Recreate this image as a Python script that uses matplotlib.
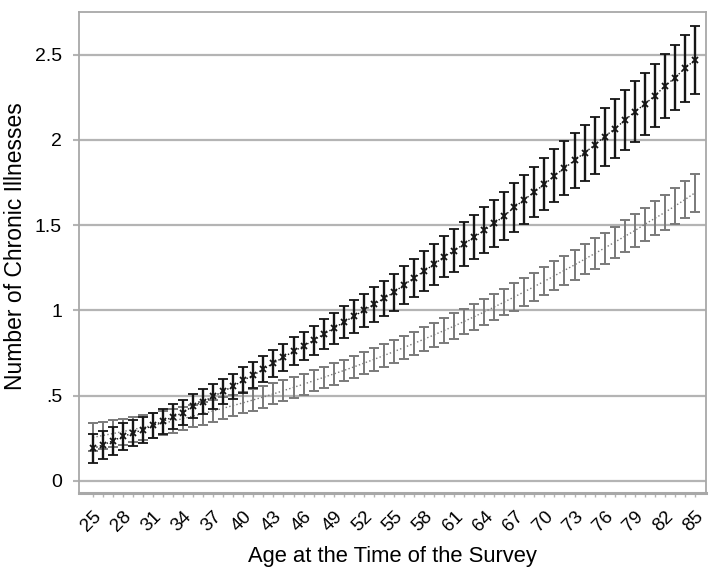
import matplotlib
matplotlib.use("Agg")
import matplotlib.pyplot as plt
import numpy as np

plt.rcParams['font.family'] = ['Liberation Sans', 'DejaVu Sans']

ages = list(range(25, 86))

# darker series (x markers)
dark_mean = [0.19, 0.21, 0.235, 0.26, 0.28, 0.30, 0.325, 0.35, 0.375, 0.40,
             0.44, 0.465, 0.495, 0.525, 0.555, 0.59, 0.62, 0.655, 0.69, 0.725,
             0.76, 0.79, 0.825, 0.86, 0.895, 0.93, 0.965, 1.0, 1.035, 1.07,
             1.105, 1.15, 1.19, 1.23, 1.27, 1.315, 1.35, 1.39, 1.43, 1.47,
             1.51, 1.555, 1.605, 1.65, 1.695, 1.74, 1.79, 1.835, 1.88, 1.925,
             1.97, 2.02, 2.065, 2.115, 2.165, 2.21, 2.26, 2.315, 2.365, 2.42,
             2.47]
dark_err = [0.085, 0.083, 0.081, 0.079, 0.077, 0.076, 0.075, 0.074, 0.073, 0.072,
            0.072, 0.072, 0.072, 0.073, 0.074, 0.075, 0.076, 0.077, 0.078, 0.08,
            0.082, 0.084, 0.086, 0.088, 0.09, 0.093, 0.096, 0.098, 0.101, 0.104,
            0.107, 0.11, 0.113, 0.116, 0.119, 0.122, 0.125, 0.128, 0.131, 0.134,
            0.137, 0.14, 0.143, 0.146, 0.149, 0.152, 0.155, 0.158, 0.161, 0.164,
            0.167, 0.17, 0.173, 0.176, 0.179, 0.182, 0.185, 0.189, 0.192, 0.196,
            0.2]

# lighter series
gray_mean = [0.255, 0.266, 0.277, 0.289, 0.301, 0.313, 0.325, 0.338, 0.351, 0.365,
             0.38, 0.395, 0.41, 0.426, 0.442, 0.458, 0.475, 0.492, 0.51, 0.529,
             0.548, 0.567, 0.587, 0.607, 0.627, 0.647, 0.668, 0.69, 0.712, 0.735,
             0.758, 0.782, 0.806, 0.831, 0.856, 0.882, 0.908, 0.935, 0.963, 0.991,
             1.02, 1.049, 1.079, 1.109, 1.14, 1.171, 1.203, 1.235, 1.267, 1.3,
             1.333, 1.366, 1.4, 1.434, 1.468, 1.505, 1.54, 1.575, 1.612, 1.65,
             1.69]
gray_err = [0.082, 0.08, 0.078, 0.076, 0.074, 0.073, 0.071, 0.07, 0.069, 0.068,
            0.067, 0.066, 0.065, 0.064, 0.064, 0.063, 0.063, 0.062, 0.062, 0.062,
            0.062, 0.062, 0.062, 0.063, 0.063, 0.064, 0.064, 0.065, 0.066, 0.067,
            0.068, 0.069, 0.07, 0.071, 0.072, 0.073, 0.074, 0.075, 0.076, 0.077,
            0.078, 0.079, 0.08, 0.081, 0.082, 0.083, 0.084, 0.085, 0.086, 0.088,
            0.089, 0.091, 0.092, 0.094, 0.096, 0.098, 0.1, 0.102, 0.104, 0.107,
            0.11]

yticks = [0, 0.5, 1, 1.5, 2, 2.5]
ytick_labels = ['0', '.5', '1', '1.5', '2', '2.5']
xticks = list(range(25, 86, 3))

fig = plt.figure(figsize=(7.16, 5.79), dpi=100)
ax = fig.add_axes([0.110, 0.149, 0.876, 0.830])

for y in yticks:
    ax.axhline(y, color='#b4b4b4', lw=1.6, zorder=0)

ax.errorbar(ages, gray_mean, yerr=gray_err, color='#7a7a7a', ecolor='#7a7a7a',
            linestyle=':', lw=1.0, elinewidth=1.4, capsize=3.3, capthick=1.4,
            zorder=2)
ax.errorbar(ages, dark_mean, yerr=dark_err, color='#151515', ecolor='#151515',
            linestyle=':', lw=1.0, marker='x', markersize=4.5, mew=1.3,
            elinewidth=1.7, capsize=3.3, capthick=1.5, zorder=3)

ax.set_xlim(23.6, 86.1)
ax.set_ylim(-0.07, 2.75)

for s in ax.spines.values():
    s.set_color('#a8a8a8')
    s.set_linewidth(1.3)
ax.spines['bottom'].set_linewidth(2.2)

ax.set_yticks(yticks)
ax.set_yticklabels(ytick_labels, fontsize=14)
ax.tick_params(axis='y', length=4, color='#b4b4b4', width=1.5, pad=8)

ax.set_xticks(ages, minor=True)
ax.set_xticks(xticks)
ax.set_xticklabels([str(a) for a in xticks], rotation=45, ha='right',
                   rotation_mode='anchor', fontsize=13.5)
ax.tick_params(axis='x', which='both', length=3, color='#b4b4b4', width=1.0, pad=8)

ax.set_xlabel('Age at the Time of the Survey', fontsize=15.8, labelpad=8)
ax.set_ylabel('Number of Chronic Illnesses', fontsize=16.5)
ax.yaxis.set_label_coords(-0.083, 0.513)

fig.savefig('out.png', dpi=100)
